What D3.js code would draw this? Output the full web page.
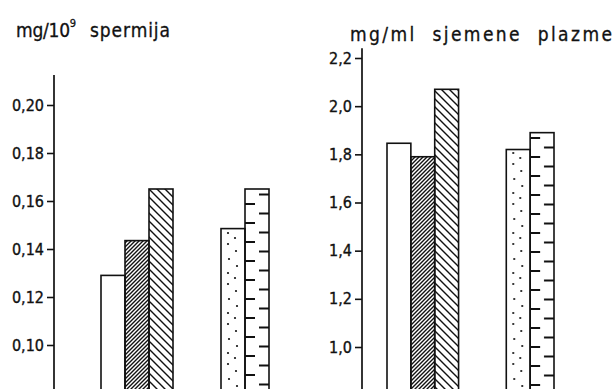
<!DOCTYPE html>
<html>
<head>
<meta charset="utf-8">
<script src="https://cdn.jsdelivr.net/npm/d3@7"></script>
<style>
  body { margin: 0; background: #fff; }
  text { font-family: "DejaVu Sans Condensed", "DejaVu Sans", sans-serif; fill: #111; }
</style>
</head>
<body>
<svg id="canvas" width="616" height="389"></svg>
<script>
// bar slots, "gap" slots stay empty
let slots = ["a1", "a2", "a3", "gap1", "gap2", "b1", "b2"];
let barSlots = ["a1", "a2", "a3", "b1", "b2"];
let fills = ["plain", "dense", "diag", "dots", "dash"];

let spermValues = [0.129, 0.1435, 0.165, 0.1485, 0.165];
let plasmaValues = [1.846, 1.79, 2.07, 1.82, 1.89];

let spermTicks = [0.10, 0.12, 0.14, 0.16, 0.18, 0.20];
let plasmaTicks = [1.0, 1.2, 1.4, 1.6, 1.8, 2.0, 2.2];

let svg = d3.select("#canvas");
let defs = svg.append("defs");

defs.append("pattern")
  .attr("id", "dense")
  .attr("patternUnits", "userSpaceOnUse")
  .attr("width", 4).attr("height", 4)
  .append("path")
  .attr("d", "M-1,1 l2,-2 M0,4 l4,-4 M3,5 l2,-2")
  .attr("stroke", "#111").attr("stroke-width", 1.4);

defs.append("pattern")
  .attr("id", "diag")
  .attr("patternUnits", "userSpaceOnUse")
  .attr("width", 8).attr("height", 8)
  .append("path")
  .attr("d", "M0,0 l8,8 M-1,7 l2,2 M7,-1 l2,2")
  .attr("stroke", "#111").attr("stroke-width", 1.4);

let drawPanel = (values, ticks, axisX, barRange, yDomain, yRange, axisTop, baseValue, fmt, id) => {
  let x = d3.scaleBand().domain(slots).range(barRange).paddingInner(0);
  let y = d3.scaleLinear().domain(yDomain).range(yRange);
  let g = svg.append("g");
  let w = x.bandwidth();

  // dots, aligned to the dotted bar
  let p = defs.append("pattern")
    .attr("id", id + "dots")
    .attr("patternUnits", "userSpaceOnUse")
    .attr("x", x("b1")).attr("y", 0)
    .attr("width", w).attr("height", 40);
  [[7, 4], [15, 11], [8, 19], [16, 26], [7, 33], [14, 38]].forEach(d => {
    p.append("circle").attr("cx", d[0]).attr("cy", d[1]).attr("r", 1.1).attr("fill", "#111");
  });

  // edge dashes, alternating left / right
  defs.append("pattern")
    .attr("id", id + "dash")
    .attr("patternUnits", "userSpaceOnUse")
    .attr("x", x("b2")).attr("y", y(yDomain[1]))
    .attr("width", w).attr("height", 19)
    .append("path")
    .attr("d", "M0,4 h10 M" + (w - 10) + ",13.5 h10")
    .attr("stroke", "#111").attr("stroke-width", 1.8);

  g.selectAll("rect")
    .data(values)
    .enter()
    .append("rect")
    .attr("x", (d, i) => x(barSlots[i]))
    .attr("width", w)
    .attr("y", d => y(d))
    .attr("height", d => y(baseValue) - y(d))
    .attr("fill", (d, i) => {
      let f = fills[i];
      if (f === "plain") return "#fff";
      if (f === "dots" || f === "dash") return "url(#" + id + f + ")";
      return "url(#" + f + ")";
    })
    .attr("stroke", "#111")
    .attr("stroke-width", 1.6);

  let axis = d3.axisLeft(y)
    .tickValues(ticks)
    .tickSize(7)
    .tickPadding(3)
    .tickFormat(d => fmt(d).replace(".", ","));

  let ag = g.append("g")
    .attr("transform", "translate(" + axisX + ",0)")
    .call(axis);
  ag.select(".domain").remove();
  ag.selectAll(".tick line").attr("stroke", "#111").attr("stroke-width", 1.6);
  ag.selectAll(".tick text").attr("font-size", 16).attr("fill", "#111")
    .attr("stroke", "#111").attr("stroke-width", 0.35)
    .attr("font-family", "'DejaVu Sans Condensed', 'DejaVu Sans', sans-serif");
  ag.append("line")
    .attr("y1", y(axisTop)).attr("y2", y(baseValue))
    .attr("stroke", "#111").attr("stroke-width", 1.7);
};

drawPanel(spermValues, spermTicks, 54, [101, 269], [0.10, 0.20], [345, 105],
  0.2125, 0.07, d3.format(".2f"), "l");

drawPanel(plasmaValues, plasmaTicks, 362, [387, 554], [1.0, 2.2], [347, 58],
  2.24, 0.8, d3.format(".1f"), "r");

// titles
let t1 = svg.append("text").attr("x", 16).attr("y", 37).attr("font-size", 19)
  .attr("stroke", "#111").attr("stroke-width", 0.3);
t1.append("tspan").attr("textLength", 54).attr("lengthAdjust", "spacing").text("mg/10");
t1.append("tspan").attr("font-size", 11).attr("dy", -10).text("9");
svg.append("text").attr("x", 90).attr("y", 37).attr("font-size", 19)
  .attr("stroke", "#111").attr("stroke-width", 0.3)
  .attr("textLength", 80).attr("lengthAdjust", "spacing")
  .text("spermija");

svg.append("text").attr("x", 350).attr("y", 41).attr("font-size", 19)
  .attr("stroke", "#111").attr("stroke-width", 0.3)
  .attr("textLength", 262).attr("lengthAdjust", "spacing")
  .style("white-space", "pre")
  .text("mg/ml  sjemene  plazme");
</script>
</body>
</html>
